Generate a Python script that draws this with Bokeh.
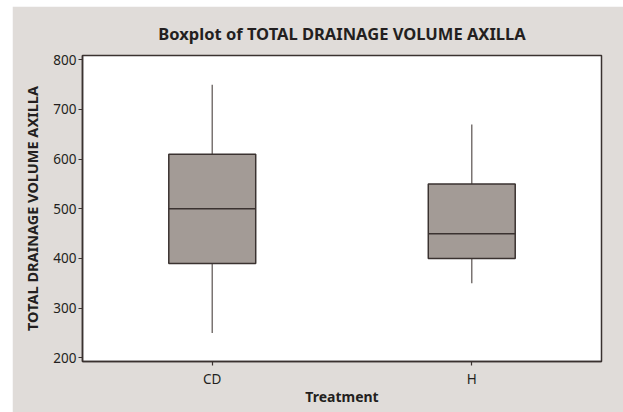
from bokeh.plotting import figure
from bokeh.models import FactorRange, Range1d, FixedTicker
from bokeh.embed import file_html
from bokeh.resources import INLINE

categories = ["CD", "H"]
whisker_low = [250, 350]
q1 = [390, 400]
median = [500, 450]
q3 = [610, 550]
whisker_high = [750, 670]
y_ticks = [200, 300, 400, 500, 600, 700, 800]

BG = "#e0dcd9"
DARK = "#3a3230"
TXT = "#231f20"
FONT = "Noto Sans"

p = figure(x_range=FactorRange(*categories, range_padding=0.0, start=0, end=2),
           y_range=Range1d(192.5, 808.7),
           frame_width=519, frame_height=306,
           min_border_left=70, min_border_right=22, min_border_top=49, min_border_bottom=51,
           output_backend="svg", toolbar_location=None,
           title="Boxplot of TOTAL DRAINAGE VOLUME AXILLA")
p.margin = (6, 0, 0, 12)
p.x_range.factor_padding = 0

p.background_fill_color = "white"
p.border_fill_color = BG
p.outline_line_color = DARK
p.outline_line_width = 1.5
p.grid.visible = False

p.title.align = "center"
p.title.text_font = FONT
p.title.text_font_size = "16.5px"
p.title.text_font_style = "bold"
p.title.text_color = TXT
p.title.standoff = 21

# whiskers
p.segment(x0=categories, y0=q3, x1=categories, y1=whisker_high, line_color="#7a7472", line_width=1.5)
p.segment(x0=categories, y0=whisker_low, x1=categories, y1=q1, line_color="#7a7472", line_width=1.5)
# boxes
p.vbar(x=categories, width=0.335, bottom=q1, top=q3, fill_color="#a39b96",
       line_color=DARK, line_width=1.5)
# medians
p.vbar(x=categories, width=0.335, bottom=median, top=median, fill_alpha=0,
       line_color=DARK, line_width=1.5)

for ax in (p.xaxis[0], p.yaxis[0]):
    ax.axis_line_color = DARK
    ax.axis_line_width = 1.5
    ax.major_tick_line_color = DARK
    ax.major_tick_line_width = 1.2
    ax.major_tick_out = 4
    ax.major_tick_in = 0
    ax.minor_tick_line_color = None
    ax.major_label_text_font = FONT
    ax.major_label_text_font_size = "13.5px"
    ax.major_label_text_color = TXT
    ax.axis_label_text_font = FONT
    ax.axis_label_text_font_style = "bold"
    ax.axis_label_text_color = TXT

p.yaxis.ticker = FixedTicker(ticks=y_ticks)
p.yaxis.axis_label = "TOTAL DRAINAGE VOLUME AXILLA"
p.yaxis.axis_label_text_font_size = "14.5px"
p.yaxis.major_label_standoff = 2
p.yaxis.axis_label_standoff = 8

p.xaxis.axis_label = "Treatment"
p.xaxis.axis_label_text_font_size = "14px"
p.xaxis.major_label_standoff = 4
p.xaxis.axis_label_standoff = -4

open("out.html", "w").write(file_html(p, INLINE))
